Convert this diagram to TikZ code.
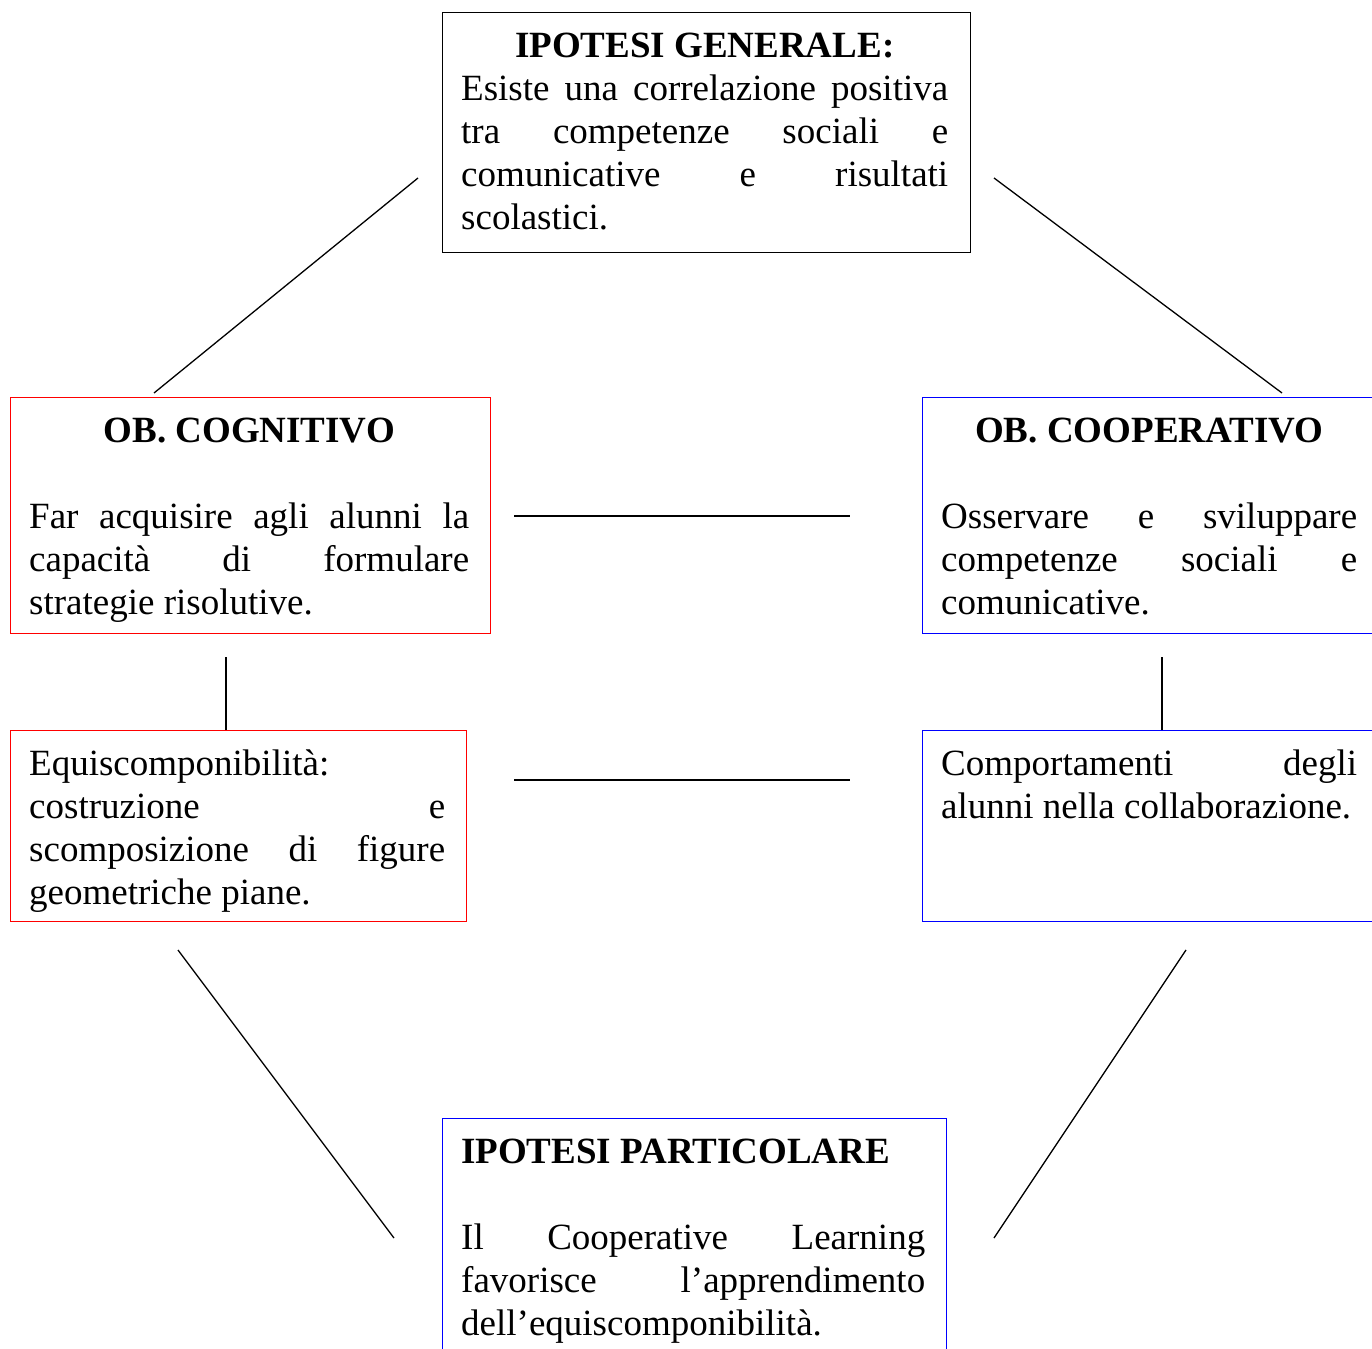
\documentclass[tikz,border=0pt]{standalone}
\usepackage{fontspec}
\setmainfont{Liberation Serif}
\usepackage{tikz}
\usetikzlibrary{positioning,calc}
\setlength{\parindent}{0pt}
\hyphenpenalty=10000
\tolerance=9999
\hbadness=10000

\tikzset{
  frame/.style={draw, line width=1.3pt, anchor=north west, inner sep=0pt},
  boxtext/.style={anchor=north west, inner sep=0pt, align=justify,
    font=\fontsize{37}{43}\selectfont},
  link/.style={draw=black, line width=1.3pt}
}
\newcommand{\boxhead}[1]{{\centering\bfseries\strut #1\par}}

\begin{document}
\begin{tikzpicture}[x=1pt, y=-1pt]
  \useasboundingbox (0,0) rectangle (1372,1348);
  % frames
  \node[frame, minimum width=528pt, minimum height=240pt] (gen) at (442,12) {};
  \node[frame, red, minimum width=480pt, minimum height=236pt] (cogn) at (10,397) {};
  \node[frame, blue, minimum width=456pt, minimum height=236pt] (coop) at (922,397) {};
  \node[frame, red, minimum width=456pt, minimum height=191pt] (equi) at (10,730) {};
  \node[frame, blue, minimum width=456pt, minimum height=191pt] (comp) at (922,730) {};
  \node[frame, blue, minimum width=504pt, minimum height=250pt] (part) at (442,1118) {};
  % texts
  \node[boxtext, text width=487pt] (gentxt) at ($(gen.north west)+(19,15)$) {%
    \boxhead{IPOTESI GENERALE:}
    Esiste una correlazione positiva\linebreak tra competenze sociali e\linebreak
    comunicative e risultati\linebreak scolastici.};
  \node[boxtext, text width=440pt] (cogntxt) at ($(cogn.north west)+(19,15)$) {%
    \boxhead{OB. COGNITIVO}\vskip43pt
    Far acquisire agli alunni la\linebreak capacità di formulare\linebreak
    strategie risolutive.};
  \node[boxtext, text width=416pt] (cooptxt) at ($(coop.north west)+(19,15)$) {%
    \boxhead{OB. COOPERATIVO}\vskip43pt
    Osservare e sviluppare\linebreak competenze sociali e\linebreak
    comunicative.};
  \node[boxtext, text width=416pt] (equitxt) at ($(equi.north west)+(19,15)$) {%
    \strut Equiscomponibilità:\linebreak costruzione e\linebreak
    scomposizione di figure\linebreak geometriche piane.};
  \node[boxtext, text width=416pt] (comptxt) at ($(comp.north west)+(19,15)$) {%
    \strut Comportamenti degli\linebreak alunni nella collaborazione.};
  \node[boxtext, text width=464pt] (parttxt) at ($(part.north west)+(19,15)$) {%
    {\bfseries\strut IPOTESI PARTICOLARE\par}\vskip43pt
    Il Cooperative Learning\linebreak favorisce l'apprendimento\linebreak
    dell'equiscomponibilità.};
  % connectors
  \coordinate (gl) at (418,178);  \coordinate (cl) at (154,393);
  \coordinate (gr) at (994,178);  \coordinate (cr) at (1282,393);
  \coordinate (h1a) at (514,516); \coordinate (h1b) at (850,516);
  \coordinate (h2a) at (514,780); \coordinate (h2b) at (850,780);
  \coordinate (vl) at (226,657);  \coordinate (vr) at (1162,657);
  \coordinate (el) at (178,950);  \coordinate (pl) at (394,1238);
  \coordinate (er) at (1186,950); \coordinate (pr) at (994,1238);
  \draw[link] (gl) -- (cl);
  \draw[link] (gr) -- (cr);
  \draw[link] (h1a) -- (h1b);
  \draw[link] (h2a) -- (h2b);
  \draw[link] (vl) -- (vl |- equi.north);
  \draw[link] (vr) -- (vr |- comp.north);
  \draw[link] (el) -- (pl);
  \draw[link] (er) -- (pr);
\end{tikzpicture}
\end{document}
